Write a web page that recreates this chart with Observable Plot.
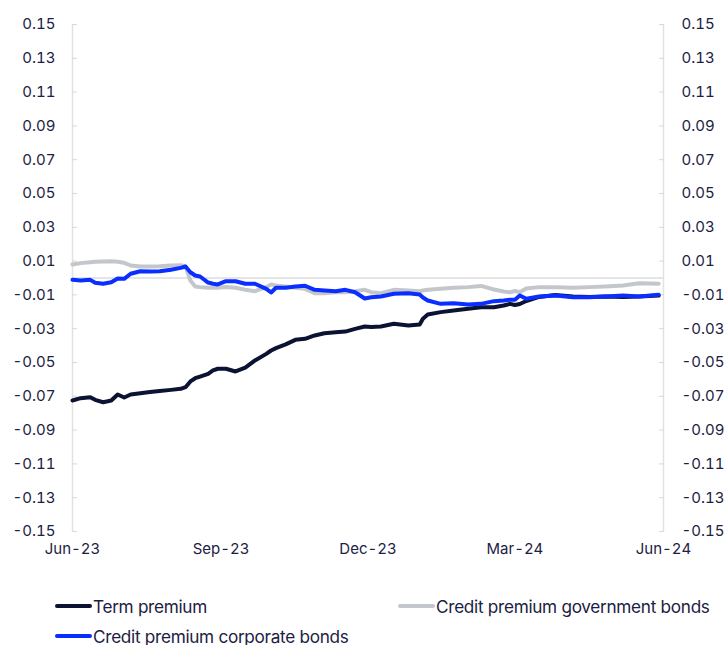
<!DOCTYPE html>
<html><head><meta charset="utf-8">
<script src="https://cdn.jsdelivr.net/npm/d3@7"></script>
<script src="https://cdn.jsdelivr.net/npm/@observablehq/plot@0.6"></script>
<style>
body{margin:0;background:#fff;font-family:Inter,"Open Sans",sans-serif;color:#1c2143;}
#wrap{position:relative;width:724px;height:645px;overflow:hidden;}
#legend{position:absolute;left:0;top:570px;width:724px;height:75px;}
.item{position:absolute;display:flex;align-items:center;font-size:17.2px;letter-spacing:-0.3px;white-space:nowrap;}
.sw{width:37px;height:4px;border-radius:2px;margin-right:1px;}
</style></head><body><div id="wrap"><div id="chart"></div><div id="legend"></div></div>
<script>
const dates = ["2023-06-01","2023-06-06","2023-06-12","2023-06-15","2023-06-20","2023-06-25","2023-06-29","2023-07-03","2023-07-07","2023-07-13","2023-07-19","2023-07-25","2023-08-01","2023-08-07","2023-08-10","2023-08-13","2023-08-16","2023-08-19","2023-08-24","2023-08-27","2023-08-30","2023-09-04","2023-09-10","2023-09-16","2023-09-22","2023-09-29","2023-10-02","2023-10-05","2023-10-11","2023-10-17","2023-10-23","2023-10-29","2023-11-04","2023-11-11","2023-11-17","2023-11-23","2023-11-29","2023-12-03","2023-12-09","2023-12-17","2023-12-26","2024-01-02","2024-01-04","2024-01-07","2024-01-15","2024-01-23","2024-02-01","2024-02-09","2024-02-17","2024-02-23","2024-02-27","2024-03-01","2024-03-04","2024-03-08","2024-03-16","2024-03-26","2024-04-06","2024-04-16","2024-04-26","2024-05-07","2024-05-17","2024-05-29"];
const termPremium = [-0.0725,-0.0711,-0.0705,-0.0721,-0.0735,-0.0725,-0.0689,-0.0707,-0.0689,-0.0682,-0.0675,-0.0669,-0.0662,-0.0656,-0.0646,-0.0612,-0.0593,-0.0583,-0.0567,-0.0547,-0.0537,-0.0537,-0.0553,-0.0530,-0.0488,-0.0449,-0.0429,-0.0415,-0.0393,-0.0366,-0.0360,-0.0340,-0.0327,-0.0321,-0.0317,-0.0301,-0.0287,-0.0290,-0.0287,-0.0271,-0.0281,-0.0275,-0.0241,-0.0216,-0.0202,-0.0192,-0.0182,-0.0173,-0.0173,-0.0163,-0.0153,-0.0160,-0.0154,-0.0136,-0.0112,-0.0101,-0.0109,-0.0112,-0.0109,-0.0112,-0.0109,-0.0104];
const creditGov = [0.0080,0.0088,0.0093,0.0096,0.0098,0.0099,0.0096,0.0090,0.0074,0.0068,0.0068,0.0070,0.0074,0.0076,0.0068,-0.0015,-0.0050,-0.0054,-0.0058,-0.0058,-0.0058,-0.0053,-0.0058,-0.0070,-0.0078,-0.0054,-0.0038,-0.0044,-0.0050,-0.0058,-0.0064,-0.0090,-0.0090,-0.0084,-0.0084,-0.0078,-0.0070,-0.0084,-0.0090,-0.0070,-0.0074,-0.0078,-0.0074,-0.0070,-0.0064,-0.0058,-0.0054,-0.0047,-0.0068,-0.0080,-0.0084,-0.0077,-0.0084,-0.0062,-0.0054,-0.0054,-0.0058,-0.0054,-0.0050,-0.0044,-0.0031,-0.0034];
const creditCorp = [-0.0011,-0.0015,-0.0011,-0.0028,-0.0034,-0.0025,-0.0003,-0.0005,0.0025,0.0040,0.0038,0.0040,0.0049,0.0060,0.0068,0.0034,0.0015,0.0009,-0.0027,-0.0034,-0.0038,-0.0019,-0.0019,-0.0034,-0.0034,-0.0064,-0.0086,-0.0058,-0.0058,-0.0050,-0.0046,-0.0070,-0.0074,-0.0078,-0.0070,-0.0084,-0.0121,-0.0114,-0.0109,-0.0093,-0.0090,-0.0098,-0.0115,-0.0133,-0.0153,-0.0149,-0.0157,-0.0153,-0.0137,-0.0133,-0.0129,-0.0129,-0.0104,-0.0123,-0.0109,-0.0104,-0.0114,-0.0114,-0.0109,-0.0104,-0.0109,-0.0099];
const seriesNames = ["Term premium","Credit premium government bonds","Credit premium corporate bonds"];
const seriesColors = ["#0b1232","#c3c6cb","#0a2eff"];
const yTicks = [0.15,0.13,0.11,0.09,0.07,0.05,0.03,0.01,-0.01,-0.03,-0.05,-0.07,-0.09,-0.11,-0.13,-0.15];
const xTickDates = ["2023-06-01","2023-09-01","2023-12-01","2024-03-01","2024-06-01"];
const xTickLabels = ["Jun-23","Sep-23","Dec-23","Mar-24","Jun-24"];
const xDomain = ["2023-06-01","2024-06-01"];

const parse = d3.utcParse("%Y-%m-%d");
const seriesValues = [termPremium, creditGov, creditCorp];
const rows = seriesValues.flatMap((vals, s) => vals.map((v, i) => ({date: parse(dates[i]), value: v, series: seriesNames[s]})));
const tickDates = xTickDates.map(parse);
const domain = xDomain.map(parse);

const chart = Plot.plot({
  width: 724, height: 570,
  marginLeft: 72, marginRight: 61, marginTop: 24, marginBottom: 39,
  style: {fontFamily: "Inter, 'Open Sans', sans-serif", fontSize: "15px", color: "#1c2143", background: "#fff"},
  x: {type: "utc", domain},
  y: {domain: [-0.15, 0.15]},
  color: {domain: seriesNames, range: seriesColors},
  marks: [
    Plot.ruleY([0], {stroke: "#dcdcdc", strokeWidth: 1.5}),
    Plot.ruleX(domain, {stroke: "#e2e2e2", strokeWidth: 1.5}),
    Plot.axisY(yTicks, {anchor: "left", tickSize: -5, tickPadding: 22, stroke: "#d8d8d8", fill: "#1c2143", tickFormat: d => d.toFixed(2), label: null}),
    Plot.axisY(yTicks, {anchor: "right", tickSize: -5, tickPadding: 23, stroke: "#d8d8d8", fill: "#1c2143", tickFormat: d => d.toFixed(2), label: null}),
    Plot.axisX(tickDates, {tickSize: 0, tickPadding: 12, fill: "#1c2143", tickFormat: (d, i) => xTickLabels[i], label: null}),
    Plot.line(rows, {x: "date", y: "value", stroke: "series", z: "series", strokeWidth: 4, strokeLinejoin: "round", strokeLinecap: "round"})
  ]
});
document.getElementById("chart").append(chart);

const legendPos = [[55, 36], [398, 36], [55, 66]];
const legend = document.getElementById("legend");
seriesNames.forEach((name, i) => {
  const it = document.createElement("div");
  it.className = "item";
  it.style.left = legendPos[i][0] + "px";
  it.style.top = (legendPos[i][1] - 11) + "px";
  it.style.height = "22px";
  const sw = document.createElement("span");
  sw.className = "sw";
  sw.style.background = seriesColors[i];
  it.append(sw, document.createTextNode(name));
  legend.append(it);
});
</script></body></html>
